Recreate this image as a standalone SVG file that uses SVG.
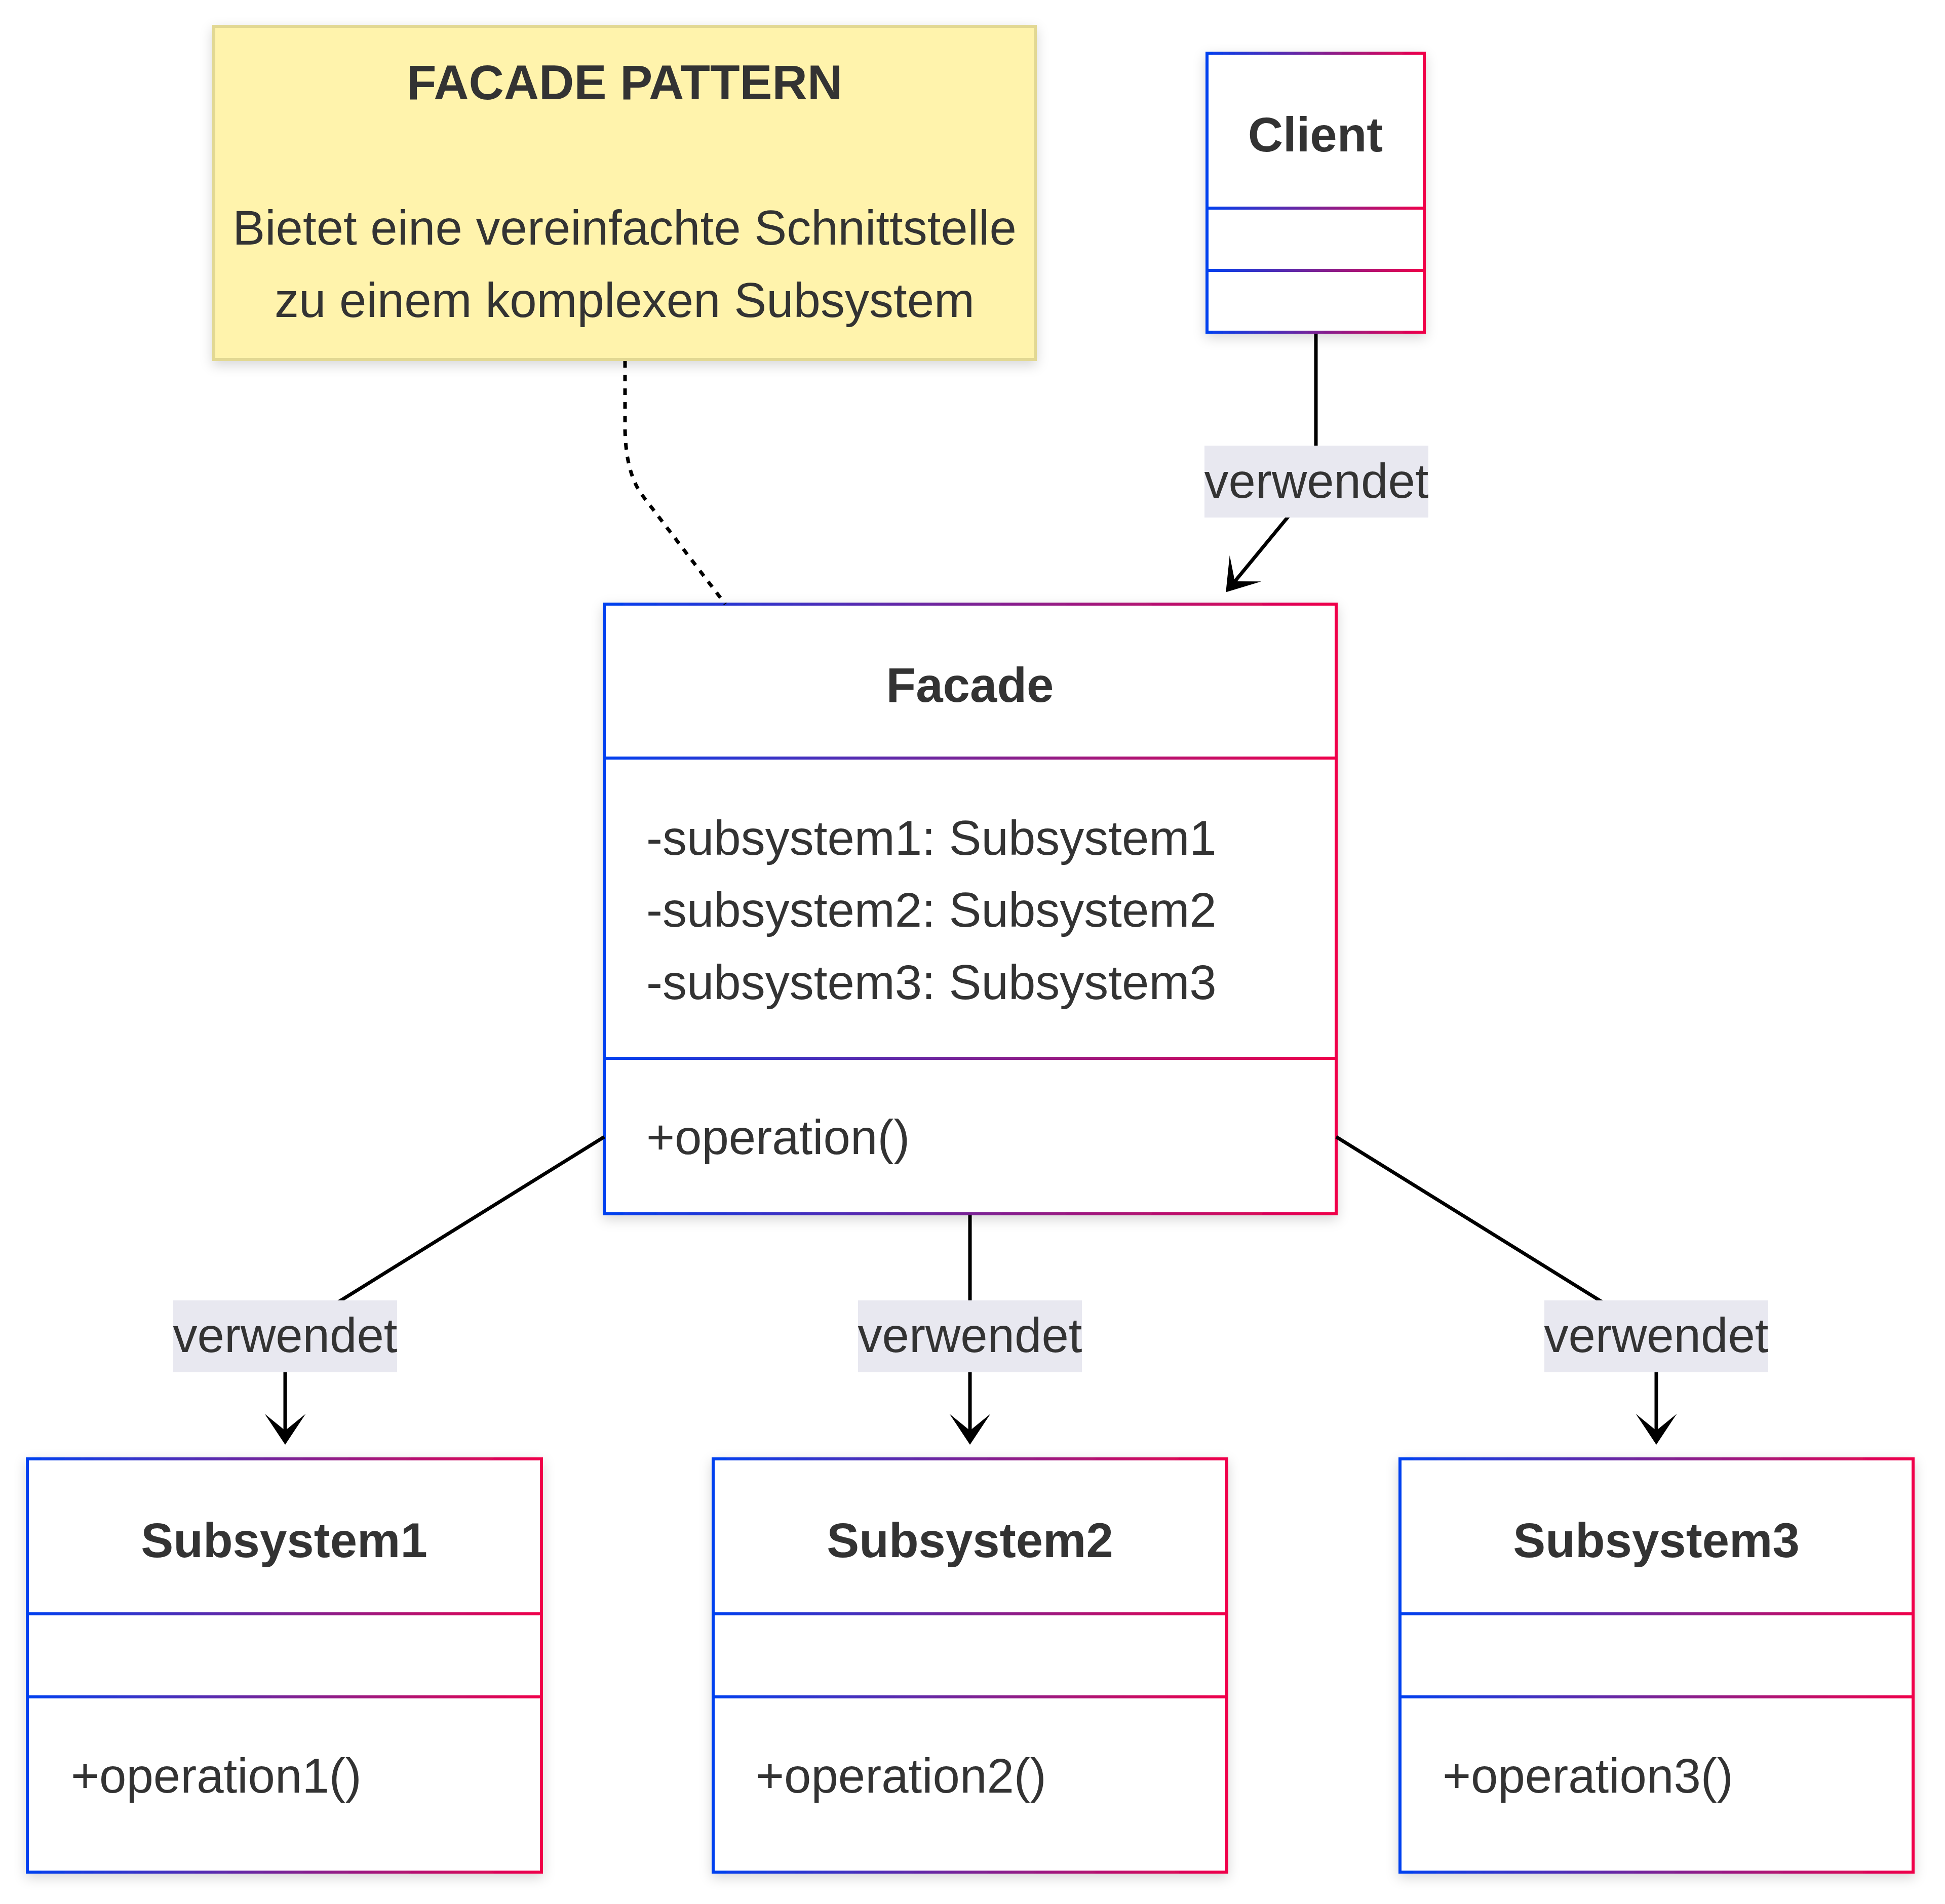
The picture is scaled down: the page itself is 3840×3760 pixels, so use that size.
<svg xmlns="http://www.w3.org/2000/svg" width="3840" height="3760" viewBox="0 0 3840 3760">
<style>
.t{font-family:"Liberation Sans",Arial,Helvetica,sans-serif;font-size:96px;fill:#333333}
.b{font-weight:bold}
.c{text-anchor:middle}
.box{fill:#ffffff;stroke-width:6}
.div{stroke-width:6;fill:none}
.edge{fill:none;stroke:#000000;stroke-width:7}
.dot{stroke-dasharray:13 14}
.lbl{fill:#e8e8f0}
</style>
<defs>
<filter id="sh" x="-10%" y="-10%" width="120%" height="125%">
<feDropShadow dx="0" dy="8" stdDeviation="12" flood-color="#000000" flood-opacity="0.16"/>
</filter>
<linearGradient id="gClient" gradientUnits="userSpaceOnUse" x1="2383" y1="0" x2="2812" y2="0"><stop offset="0" stop-color="#0040f0"/><stop offset="0.5" stop-color="#7a2296"/><stop offset="1" stop-color="#f0004a"/></linearGradient>
<linearGradient id="gFacade" gradientUnits="userSpaceOnUse" x1="1193" y1="0" x2="2638" y2="0"><stop offset="0" stop-color="#0040f0"/><stop offset="0.5" stop-color="#7a2296"/><stop offset="1" stop-color="#f0004a"/></linearGradient>
<linearGradient id="gS1" gradientUnits="userSpaceOnUse" x1="54" y1="0" x2="1069" y2="0"><stop offset="0" stop-color="#0040f0"/><stop offset="0.5" stop-color="#7a2296"/><stop offset="1" stop-color="#f0004a"/></linearGradient>
<linearGradient id="gS2" gradientUnits="userSpaceOnUse" x1="1408" y1="0" x2="2422" y2="0"><stop offset="0" stop-color="#0040f0"/><stop offset="0.5" stop-color="#7a2296"/><stop offset="1" stop-color="#f0004a"/></linearGradient>
<linearGradient id="gS3" gradientUnits="userSpaceOnUse" x1="2764" y1="0" x2="3777" y2="0"><stop offset="0" stop-color="#0040f0"/><stop offset="0.5" stop-color="#7a2296"/><stop offset="1" stop-color="#f0004a"/></linearGradient>
<marker id="arr" markerUnits="userSpaceOnUse" viewBox="-70 -45 80 90" markerWidth="80" markerHeight="90" refX="-28" refY="0" orient="auto" overflow="visible">
<path d="M0,0 L-61,-40.5 L-28,0 L-61,40.5 Z" fill="#000000"/>
</marker>
</defs>
<rect x="0" y="0" width="3840" height="3760" fill="#ffffff"/>

<g id="note">
<rect x="422" y="52" width="1622" height="658" fill="#fff3ac" stroke="#e2d893" stroke-width="6" filter="url(#sh)"/>
<text class="t b c" x="1233" y="196">FACADE PATTERN</text>
<text class="t c" x="1233" y="483">Bietet eine vereinfachte Schnittstelle</text>
<text class="t c" x="1233" y="626">zu einem komplexen Subsystem</text>
</g>

<g id="Client">
<rect class="box" x="2383" y="105" width="429" height="551" stroke="url(#gClient)" filter="url(#sh)"/>
<line class="div" x1="2383" y1="411" x2="2812" y2="411" stroke="url(#gClient)"/>
<line class="div" x1="2383" y1="534" x2="2812" y2="534" stroke="url(#gClient)"/>
<text class="t b c" x="2597" y="299">Client</text>
</g>

<g id="Facade">
<rect class="box" x="1193" y="1193" width="1445" height="1204" stroke="url(#gFacade)" filter="url(#sh)"/>
<line class="div" x1="1193" y1="1497" x2="2638" y2="1497" stroke="url(#gFacade)"/>
<line class="div" x1="1193" y1="2090" x2="2638" y2="2090" stroke="url(#gFacade)"/>
<text class="t b c" x="1915" y="1386">Facade</text>
<text class="t" x="1276" y="1688">-subsystem1: Subsystem1</text>
<text class="t" x="1276" y="1830">-subsystem2: Subsystem2</text>
<text class="t" x="1276" y="1973">-subsystem3: Subsystem3</text>
<text class="t" x="1276" y="2279">+operation()</text>
</g>

<g id="Subsystem1">
<rect class="box" x="54" y="2881" width="1015" height="816" stroke="url(#gS1)" filter="url(#sh)"/>
<line class="div" x1="54" y1="3187" x2="1069" y2="3187" stroke="url(#gS1)"/>
<line class="div" x1="54" y1="3351" x2="1069" y2="3351" stroke="url(#gS1)"/>
<text class="t b c" x="561" y="3075">Subsystem1</text>
<text class="t" x="140" y="3540">+operation1()</text>
</g>

<g id="Subsystem2">
<rect class="box" x="1408" y="2881" width="1014" height="816" stroke="url(#gS2)" filter="url(#sh)"/>
<line class="div" x1="1408" y1="3187" x2="2422" y2="3187" stroke="url(#gS2)"/>
<line class="div" x1="1408" y1="3351" x2="2422" y2="3351" stroke="url(#gS2)"/>
<text class="t b c" x="1915" y="3075">Subsystem2</text>
<text class="t" x="1492" y="3540">+operation2()</text>
</g>

<g id="Subsystem3">
<rect class="box" x="2764" y="2881" width="1013" height="816" stroke="url(#gS3)" filter="url(#sh)"/>
<line class="div" x1="2764" y1="3187" x2="3777" y2="3187" stroke="url(#gS3)"/>
<line class="div" x1="2764" y1="3351" x2="3777" y2="3351" stroke="url(#gS3)"/>
<text class="t b c" x="3270" y="3075">Subsystem3</text>
<text class="t" x="2848" y="3540">+operation3()</text>
</g>

<g id="connectors">
<path class="edge dot" d="M1234,713 L1234,850 Q1236,935 1268,978 L1432,1193"/>
<path class="edge" d="M2598,659 L2598,900 Q2598,960 2560,1000 L2438,1148" marker-end="url(#arr)"/>
<path class="edge" d="M1193,2245 L673,2568 Q563,2630 563,2700 L563,2825" marker-end="url(#arr)"/>
<path class="edge" d="M1915,2400 L1915,2825" marker-end="url(#arr)"/>
<path class="edge" d="M2638,2245 L3158,2568 Q3270,2630 3270,2700 L3270,2825" marker-end="url(#arr)"/>
<g id="labels">
<rect class="lbl" x="2378" y="880" width="442" height="142"/>
<text class="t c" x="2599" y="983">verwendet</text>
<rect class="lbl" x="342" y="2568" width="442" height="142"/>
<text class="t c" x="563" y="2670">verwendet</text>
<rect class="lbl" x="1694" y="2568" width="442" height="142"/>
<text class="t c" x="1915" y="2670">verwendet</text>
<rect class="lbl" x="3049" y="2568" width="442" height="142"/>
<text class="t c" x="3270" y="2670">verwendet</text>
</g>
</g>
</svg>
